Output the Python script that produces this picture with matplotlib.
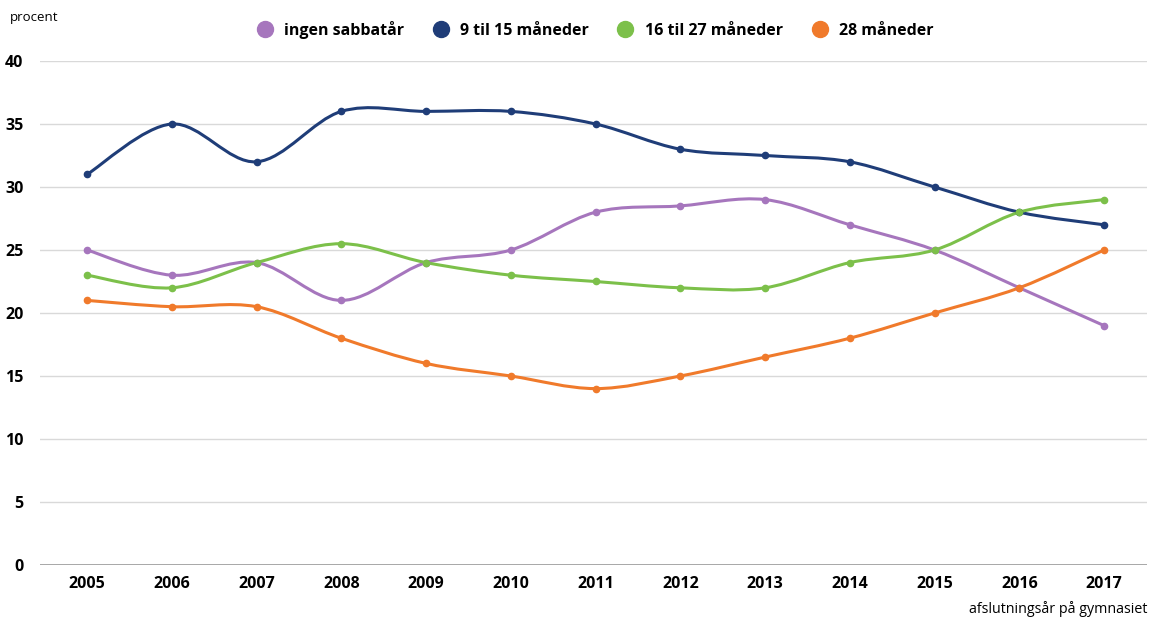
import numpy as np
import matplotlib
matplotlib.use("Agg")
import matplotlib.pyplot as plt
from matplotlib.path import Path
from matplotlib.patches import PathPatch
from matplotlib.lines import Line2D

# data
years = [2005, 2006, 2007, 2008, 2009, 2010, 2011, 2012, 2013, 2014, 2015, 2016, 2017]
ingen = [25, 23, 24, 21, 24, 25, 28, 28.5, 29, 27, 25, 22, 19]
m9_15 = [31, 35, 32, 36, 36, 36, 35, 33, 32.5, 32, 30, 28, 27]
m16_27 = [23, 22, 24, 25.5, 24, 23, 22.5, 22, 22, 24, 25, 28, 29]
m28 = [21, 20.5, 20.5, 18, 16, 15, 14, 15, 16.5, 18, 20, 22, 25]

labels = ["ingen sabbatår", "9 til 15 måneder", "16 til 27 måneder", "28 måneder"]
colors = ["#a676bd", "#1f3d78", "#7cc04a", "#f07a2b"]

plt.rcParams['font.family'] = ['Open Sans', 'DejaVu Sans']


def smooth_path(x, y):
    # bezier segments like a smoothed spreadsheet line
    x = np.asarray(x, float)
    y = np.asarray(y, float)
    n = len(x)
    verts = [(x[0], y[0])]
    codes = [Path.MOVETO]
    t = 1 / 6
    for i in range(n - 1):
        x0, y0 = (x[i - 1], y[i - 1]) if i > 0 else (x[i], y[i])
        x3, y3 = (x[i + 2], y[i + 2]) if i + 2 < n else (x[i + 1], y[i + 1])
        c1 = (x[i] + (x[i + 1] - x0) * t, y[i] + (y[i + 1] - y0) * t)
        c2 = (x[i + 1] - (x3 - x[i]) * t, y[i + 1] - (y3 - y[i]) * t)
        verts += [c1, c2, (x[i + 1], y[i + 1])]
        codes += [Path.CURVE4] * 3
    return Path(verts, codes)


fig = plt.figure(figsize=(11.49, 6.17), dpi=100)
ax = fig.add_axes([40 / 1149, 52 / 617, 1107 / 1149, 504 / 617])

for serie, c in zip([ingen, m9_15, m16_27, m28], colors):
    ax.add_patch(PathPatch(smooth_path(years, serie), facecolor="none",
                           edgecolor=c, lw=2.2, capstyle="round", zorder=3))
    ax.plot(years, serie, "o", color=c, ms=4.5, zorder=4)

ax.set_xlim(2004.445, 2017.507)
ax.set_ylim(0, 40)
ax.set_yticks(range(0, 41, 5))
ax.set_xticks(years)
ax.grid(axis="y", color="#d9d9d9", lw=1)
ax.axhline(0, color="#9a9a9a", lw=1.2, zorder=2)
ax.set_axisbelow(True)
for s in ax.spines.values():
    s.set_visible(False)
ax.tick_params(length=0, labelsize=11.5, pad=8)
for lab in ax.get_xticklabels() + ax.get_yticklabels():
    lab.set_fontweight("bold")
ax.tick_params(axis="y", pad=12)

fig.text(10 / 1149, 1 - 18 / 617, "procent", fontsize=9.5, va="center", ha="left")
fig.text(1147 / 1149, 1 - 609 / 617, "afslutningsår på gymnasiet", fontsize=10.3,
         va="center", ha="right")

handles = [Line2D([], [], ls="none", marker="o", ms=11.5, color=c) for c in colors]
leg = fig.legend(handles, labels, loc="center", bbox_to_anchor=(591 / 1149, 1 - 30 / 617),
                 ncol=4, frameon=False, handletextpad=0.2, columnspacing=1.3,
                 prop={"weight": "bold", "size": 11.5})

fig.savefig("out.png", dpi=100)
